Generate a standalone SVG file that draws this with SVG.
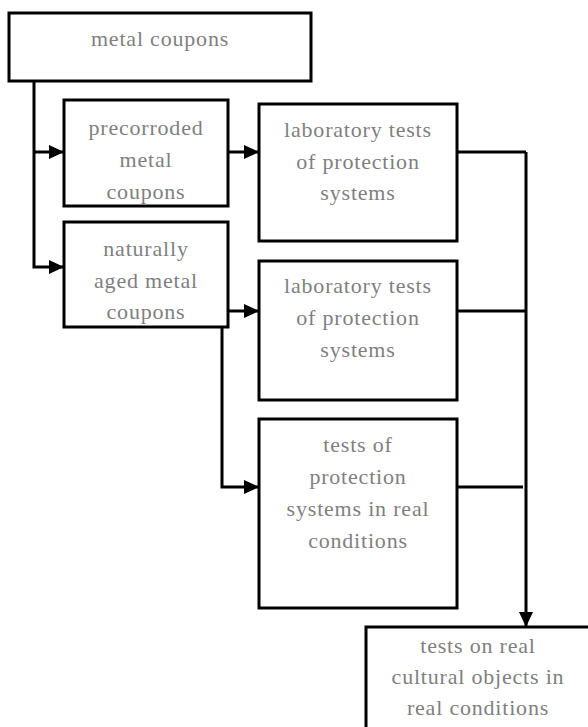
<svg xmlns="http://www.w3.org/2000/svg" width="588" height="727" viewBox="0 0 588 727">
<style>
.box{fill:#fff;stroke:#000;stroke-width:3}
.t{font-family:'Liberation Serif','Times New Roman',serif;font-size:22px;fill:#7f7f7f;text-anchor:middle;letter-spacing:0.8px}
.c{fill:none;stroke:#000;stroke-width:3}
</style>
<defs>
<marker id="ah" markerWidth="15" markerHeight="14" refX="15" refY="7" orient="auto" markerUnits="userSpaceOnUse">
<path d="M0,0 L15,7 L0,14 Z" fill="#000"/>
</marker>
</defs>
<rect width="588" height="727" fill="#fff"/>
<g id="connectors">
<path class="c" d="M34,81 V267 H64" marker-end="url(#ah)"/>
<path class="c" d="M34,152 H64" marker-end="url(#ah)"/>
<path class="c" d="M228,152 H259" marker-end="url(#ah)"/>
<path class="c" d="M228,311 H259" marker-end="url(#ah)"/>
<path class="c" d="M222,327 V487 H259" marker-end="url(#ah)"/>
<path class="c" d="M457,152 H526"/>
<path class="c" d="M457,311 H526"/>
<path class="c" d="M457,487 H523"/>
<path class="c" d="M526,152 V627" marker-end="url(#ah)"/>
</g>
<g id="n1"><rect class="box" x="9" y="13" width="302" height="68"/><text class="t" x="160" y="46">metal coupons</text></g>
<g id="n2"><rect class="box" x="64" y="100" width="164" height="106"/><text class="t" x="146" y="135">precorroded</text><text class="t" x="146" y="167">metal</text><text class="t" x="146" y="199">coupons</text></g>
<g id="n3"><rect class="box" x="64" y="222" width="164" height="105"/><text class="t" x="146" y="256">naturally</text><text class="t" x="146" y="288">aged metal</text><text class="t" x="146" y="319">coupons</text></g>
<g id="n4"><rect class="box" x="259" y="104" width="198" height="137"/><text class="t" x="358" y="137">laboratory tests</text><text class="t" x="358" y="169">of protection</text><text class="t" x="358" y="200">systems</text></g>
<g id="n5"><rect class="box" x="259" y="261" width="198" height="139"/><text class="t" x="358" y="293">laboratory tests</text><text class="t" x="358" y="325">of protection</text><text class="t" x="358" y="357">systems</text></g>
<g id="n6"><rect class="box" x="259" y="419" width="198" height="189"/><text class="t" x="358" y="452">tests of</text><text class="t" x="358" y="484">protection</text><text class="t" x="358" y="516">systems in real</text><text class="t" x="358" y="548">conditions</text></g>
<g id="n7"><rect class="box" x="366" y="627" width="224" height="115"/><text class="t" x="478" y="653">tests on real</text><text class="t" x="478" y="684">cultural objects in</text><text class="t" x="478" y="715">real conditions</text></g>
</svg>
